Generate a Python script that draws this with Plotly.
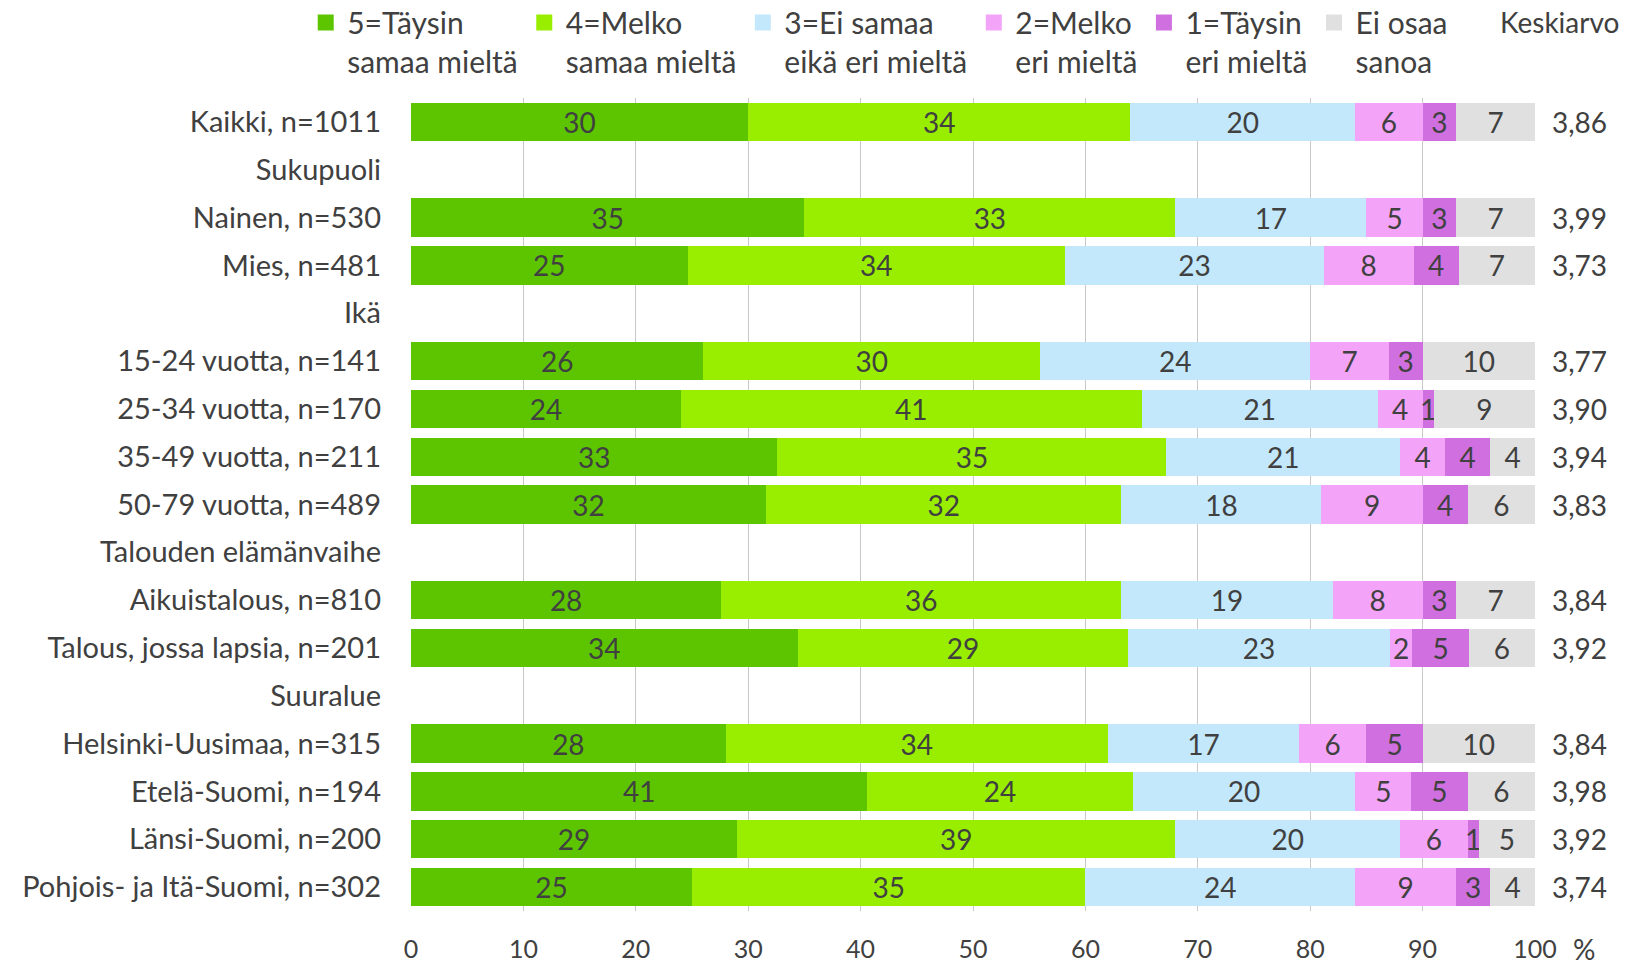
import plotly.graph_objects as go

rows = ["Kaikki, n=1011", "Sukupuoli", "Nainen, n=530", "Mies, n=481", "Ikä",
        "15-24 vuotta, n=141", "25-34 vuotta, n=170", "35-49 vuotta, n=211",
        "50-79 vuotta, n=489", "Talouden elämänvaihe", "Aikuistalous, n=810",
        "Talous, jossa lapsia, n=201", "Suuralue", "Helsinki-Uusimaa, n=315",
        "Etelä-Suomi, n=194", "Länsi-Suomi, n=200", "Pohjois- ja Itä-Suomi, n=302"]

# None = otsikkorivi (ei palkkia)
taysin_samaa = [30, None, 35, 24.6, None, 26, 24, 32.6, 31.6, None, 27.6, 34.4, None, 28, 40.6, 29, 25]
melko_samaa = [34, None, 33, 33.6, None, 30, 41, 34.6, 31.6, None, 35.6, 29.4, None, 34, 23.6, 39, 35]
ei_samaa_eika_eri = [20, None, 17, 23, None, 24, 21, 20.8, 17.8, None, 18.8, 23.3, None, 17, 19.8, 20, 24]
melko_eri = [6, None, 5, 8, None, 7, 4, 4, 9, None, 8, 2, None, 6, 5, 6, 9]
taysin_eri = [3, None, 3, 4, None, 3, 1, 4, 4, None, 3, 5, None, 5, 5, 1, 3]
ei_osaa = [7, None, 7, 6.8, None, 10, 9, 4, 6, None, 7, 5.9, None, 10, 6, 5, 4]

keskiarvo = ["3,86", "", "3,99", "3,73", "", "3,77", "3,90", "3,94", "3,83", "",
             "3,84", "3,92", "", "3,84", "3,98", "3,92", "3,74"]

series = [
    ("5=Täysin<br>samaa mieltä", taysin_samaa, "#5CC500"),
    ("4=Melko<br>samaa mieltä", melko_samaa, "#99EE00"),
    ("3=Ei samaa<br>eikä eri mieltä", ei_samaa_eika_eri, "#C3E8FB"),
    ("2=Melko<br>eri mieltä", melko_eri, "#F4A4F8"),
    ("1=Täysin<br>eri mieltä", taysin_eri, "#D070E0"),
    ("Ei osaa<br>sanoa", ei_osaa, "#E0E0E0"),
]

FONT = "Lato"
TXT = "#404040"

fig = go.Figure()
for name, vals, col in series:
    fig.add_trace(go.Bar(
        y=rows, x=vals, name=name, orientation="h", showlegend=False,
        marker=dict(color=col, line=dict(width=0)),
        texttemplate="%{x:.0f}", textposition="inside",
        insidetextanchor="middle", textangle=0,
        constraintext="none",
        textfont=dict(family=FONT, size=28, color=TXT),
        hoverinfo="skip",
    ))

# selitteen isommat neliöt
for name, vals, col in series:
    fig.add_trace(go.Scatter(
        x=[None], y=[None], name=name, mode="markers",
        marker=dict(symbol="square", size=16, color=col),
        hoverinfo="skip",
    ))

for r, k in zip(rows, keskiarvo):
    if k:
        fig.add_annotation(x=1.040, xref="paper", y=r, yref="y", text=k,
                           showarrow=False, xanchor="center",
                           font=dict(family=FONT, size=28, color=TXT))

fig.add_annotation(x=1.022, xref="paper", y=1.0935, yref="paper", text="Keskiarvo",
                   showarrow=False, xanchor="center", yanchor="middle",
                   font=dict(family=FONT, size=28, color=TXT))
fig.add_annotation(x=1.044, xref="paper", y=-0.047, yref="paper", text="%",
                   showarrow=False, xanchor="center", yanchor="middle",
                   font=dict(family=FONT, size=28, color=TXT))

fig.update_layout(
    barmode="stack",
    bargap=0.2,
    width=1627, height=965,
    margin=dict(l=411, r=92, t=98, b=54, autoexpand=False),
    paper_bgcolor="white", plot_bgcolor="white",
    font=dict(family=FONT, size=28, color=TXT),
    showlegend=True,
    legend=dict(orientation="h", x=-0.095, xanchor="left", y=1.125, yanchor="top",
                traceorder="normal", valign="top", itemwidth=33, itemsizing="trace",
                font=dict(family=FONT, size=30, color=TXT)),
    xaxis=dict(range=[0, 100], dtick=10, showgrid=True, gridcolor="#C8C8C8",
               gridwidth=1, zeroline=False, showline=False,
               ticklabelstandoff=21, tickfont=dict(family=FONT, size=25, color=TXT)),
    yaxis=dict(autorange="reversed", showgrid=False, ticklabelstandoff=29,
               tickfont=dict(family=FONT, size=29, color=TXT)),
)

# sivun oletusmarginaali pois, jotta kuva alkaa kulmasta
fig.write_html("out.html", config={"displayModeBar": False},
               post_script="document.body.style.margin='0';")
